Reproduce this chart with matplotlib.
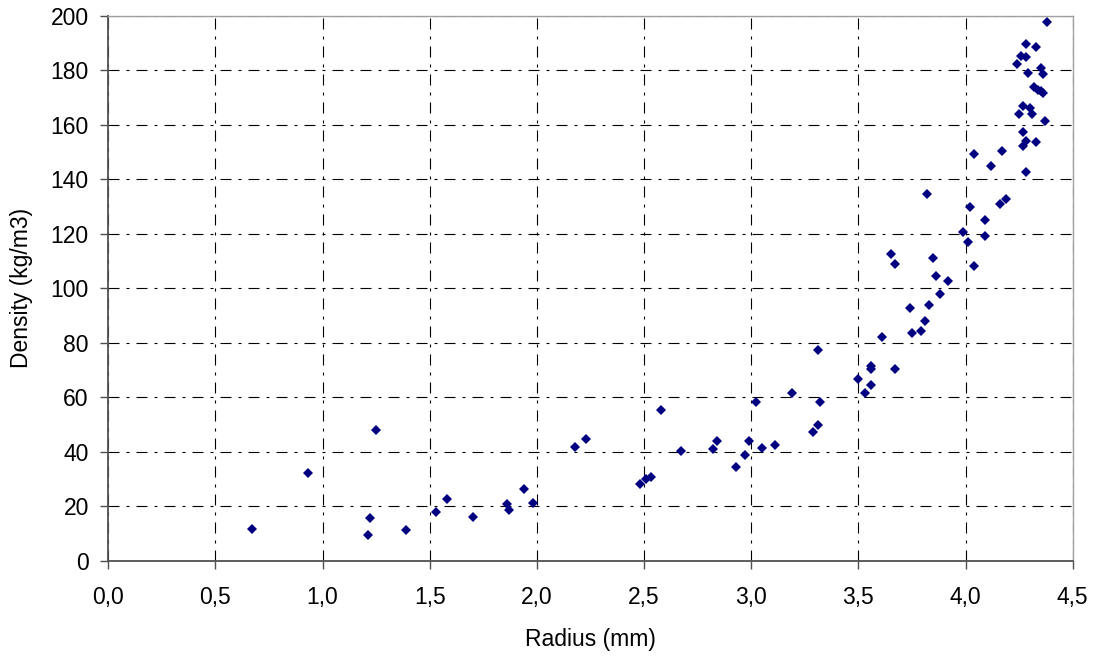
import numpy as np
import matplotlib.pyplot as plt
from matplotlib.ticker import FuncFormatter

plt.rcParams['font.family'] = ['Liberation Sans', 'DejaVu Sans']

# Medições: raio da partícula (mm) e densidade (kg/m3)
raio = [0.67, 0.93, 1.21, 1.22, 1.25, 1.39, 1.53, 1.58, 1.70, 1.86,
        1.87, 1.94, 1.98, 2.18, 2.23, 2.48, 2.51, 2.53, 2.58, 2.67,
        2.82, 2.84, 2.93, 2.97, 2.99, 3.02, 3.05, 3.11, 3.19, 3.29,
        3.31, 3.32, 3.31, 3.50, 3.53, 3.56, 3.56, 3.56, 3.61, 3.67,
        3.65, 3.67, 3.74, 3.75, 3.79, 3.81, 3.82, 3.83, 3.85, 3.86,
        3.88, 3.92, 3.99, 4.01, 4.02, 4.04, 4.09, 4.09, 4.12, 4.16,
        4.19, 4.04, 4.17, 4.28, 4.27, 4.28, 4.33, 4.27, 4.37, 4.25,
        4.31, 4.30, 4.27, 4.32, 4.34, 4.35, 4.36, 4.29, 4.35, 4.36,
        4.24, 4.26, 4.28, 4.28, 4.33, 4.38]
densidade = [11.7, 32.2, 9.4, 15.6, 48.0, 11.3, 17.7, 22.8, 15.9, 20.7,
             18.6, 26.2, 21.1, 41.8, 44.7, 28.1, 30.0, 30.7, 55.4, 40.4,
             40.8, 43.9, 34.4, 38.7, 43.9, 58.1, 41.3, 42.5, 61.5, 47.3,
             49.9, 58.1, 77.4, 66.7, 61.4, 64.5, 71.3, 70.5, 82.1, 70.5,
             112.6, 108.7, 92.9, 83.5, 84.2, 88.1, 134.6, 93.8, 111.0, 104.6,
             97.7, 102.7, 120.8, 117.1, 129.8, 108.0, 125.1, 119.0, 144.9, 130.8,
             132.9, 149.2, 150.4, 142.6, 152.2, 154.0, 153.5, 157.4, 161.3, 164.1,
             164.1, 166.0, 166.9, 173.7, 172.8, 172.4, 171.8, 178.8, 180.7, 178.6,
             182.4, 185.3, 184.7, 189.6, 188.6, 197.8]

fig = plt.figure(figsize=(10.99, 6.59), dpi=100)
ax = fig.add_axes([0.0985, 0.1492, 0.8776, 0.8270])

ax.plot(raio, densidade, linestyle='none', marker='D', markersize=4.8,
        color='#000080', markeredgewidth=0)

ax.set_xlim(0, 4.5)
ax.set_ylim(0, 200)
ax.set_xticks(np.arange(0, 4.51, 0.5))
ax.set_yticks(np.arange(0, 201, 20))
ax.xaxis.set_major_formatter(FuncFormatter(lambda v, p: f'{v:.1f}'.replace('.', ',')))

# grade traço-ponto estilo planilha
ax.set_axisbelow(True)
ax.grid(True, color='black', linewidth=0.8, linestyle=(0, (9.9, 6.3, 2.7, 6.3)))

for lado in ['left', 'bottom']:
    ax.spines[lado].set_color('#505050')
    ax.spines[lado].set_linewidth(1.3)
for lado in ['top', 'right']:
    ax.spines[lado].set_color('#a0a0a0')
    ax.spines[lado].set_linewidth(1.0)

ax.tick_params(axis='both', direction='out', length=6, width=1, color='#505050',
               labelsize=16.5)
ax.tick_params(axis='x', pad=12)
ax.tick_params(axis='y', pad=8)

ax.set_xlabel('Radius (mm)', fontsize=16.5, labelpad=14)
ax.set_ylabel('Density (kg/m3)', fontsize=16.5, labelpad=13)

plt.savefig('out.png', dpi=100)
